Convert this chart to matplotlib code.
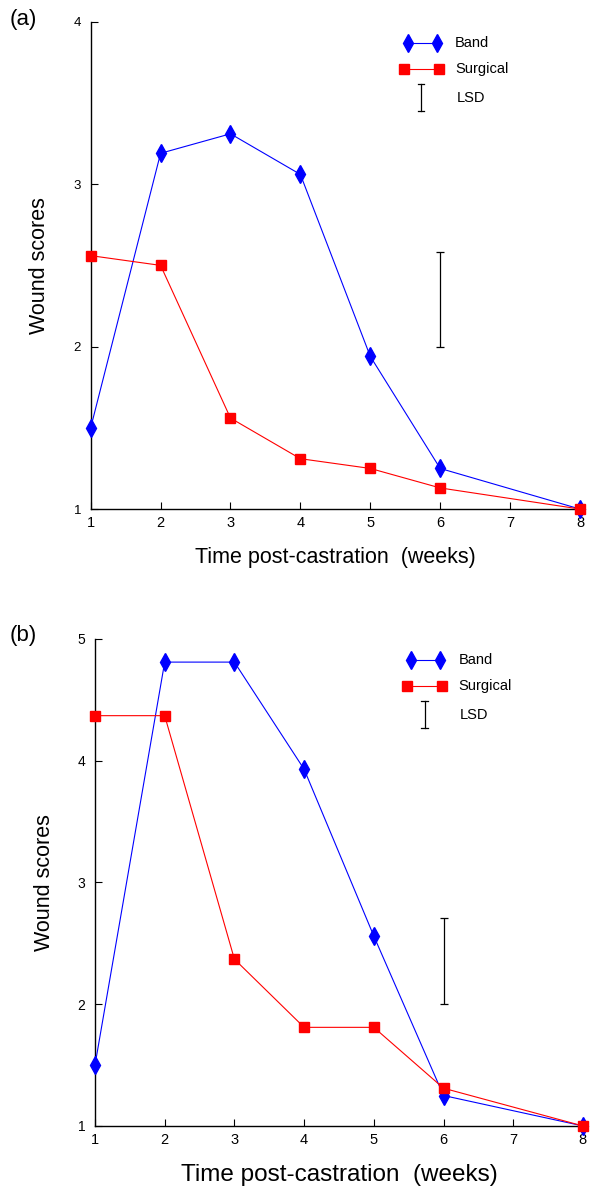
import matplotlib
matplotlib.use("Agg")
import matplotlib.pyplot as plt

plt.rcParams["font.family"] = ["Liberation Sans", "DejaVu Sans"]

weeks = [1, 2, 3, 4, 5, 6, 8]

band_a = [1.5, 3.19, 3.31, 3.06, 1.94, 1.25, 1.0]
surgical_a = [2.56, 2.5, 1.56, 1.31, 1.25, 1.13, 1.0]
lsd_a = (6, 2.0, 2.58)

band_b = [1.5, 4.81, 4.81, 3.93, 2.56, 1.25, 1.0]
surgical_b = [4.37, 4.37, 2.37, 1.81, 1.81, 1.31, 1.0]
lsd_b = (6, 2.0, 2.71)

x_ticks = [1, 2, 3, 4, 5, 6, 7, 8]

BLUE = "#0000ff"
RED = "#ff0000"


def draw_legend(ax, lsd_x):
    tr = ax.transAxes
    ax.plot([0.648, 0.707], [0.956, 0.956], color=BLUE, lw=0.8, marker="d",
            ms=9, transform=tr, clip_on=False)
    ax.text(0.745, 0.956, "Band", fontsize=10.5, va="center", transform=tr)
    ax.plot([0.640, 0.712], [0.903, 0.903], color=RED, lw=0.8, marker="s",
            ms=6.5, transform=tr, clip_on=False)
    ax.text(0.745, 0.903, "Surgical", fontsize=10.5, va="center", transform=tr)
    ax.plot([lsd_x, lsd_x], [0.817, 0.872], color="black", lw=0.9, transform=tr)
    for yy in (0.817, 0.872):
        ax.plot([lsd_x - 0.007, lsd_x + 0.007], [yy, yy], color="black",
                lw=0.9, transform=tr)
    ax.text(0.748, 0.843, "LSD", fontsize=10.5, va="center", transform=tr)


def panel(ax, band, surgical, lsd, ymax, ylab_size, xlab_size, ytick_size, ylpad):
    ax.plot(weeks, band, color=BLUE, lw=0.8, marker="d", ms=9, clip_on=False,
            zorder=3)
    ax.plot(weeks, surgical, color=RED, lw=0.8, marker="s", ms=6.5,
            clip_on=False, zorder=4)
    x, lo, hi = lsd
    ax.errorbar([x], [(lo + hi) / 2], yerr=[(hi - lo) / 2], fmt="none",
                ecolor="black", elinewidth=0.9, capsize=3, capthick=0.9)

    ax.set_xlim(1, 8)
    ax.set_ylim(1, ymax)
    ax.set_xticks(x_ticks)
    ax.set_yticks(range(1, ymax + 1))
    for s in ("top", "right"):
        ax.spines[s].set_visible(False)
    for s in ("left", "bottom"):
        ax.spines[s].set_linewidth(1.0)
    ax.tick_params(axis="x", direction="in", length=5, width=0.8,
                   labelsize=10.5, pad=5)
    ax.tick_params(axis="y", direction="in", length=5, width=0.8,
                   labelsize=ytick_size, pad=7)
    ax.set_xlabel("Time post-castration  (weeks)", fontsize=xlab_size, labelpad=12)
    ax.set_ylabel("Wound scores", fontsize=ylab_size, labelpad=ylpad)


fig = plt.figure(figsize=(5.9, 11.93), dpi=100)
ax_a = fig.add_axes([0.1537, 0.5733, 0.8293, 0.4085])
ax_b = fig.add_axes([0.161, 0.0562, 0.827, 0.4082])

panel(ax_a, band_a, surgical_a, lsd_a, 4, 15.5, 15.5, 9.5, 17)
panel(ax_b, band_b, surgical_b, lsd_b, 5, 15.5, 17.5, 10, 16)
draw_legend(ax_a, 0.675)
draw_legend(ax_b, 0.676)

fig.text(10 / 590, 1 - 20 / 1193, "(a)", fontsize=16, ha="left", va="center")
fig.text(10 / 590, 1 - 636 / 1193, "(b)", fontsize=16, ha="left", va="center")

fig.savefig("out.png", dpi=100)
